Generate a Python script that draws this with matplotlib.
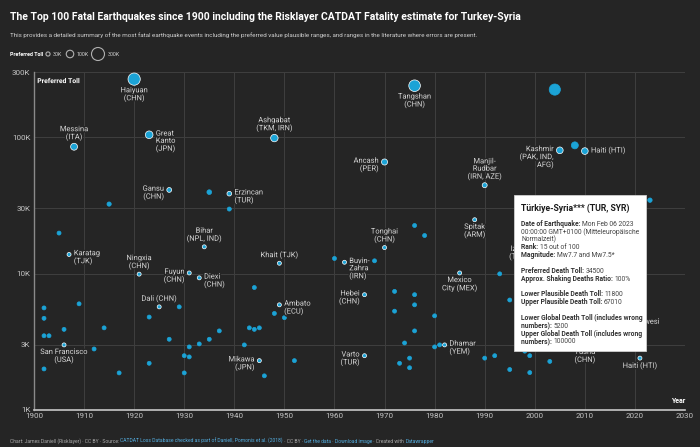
import numpy as np
import matplotlib.pyplot as plt
import matplotlib.patheffects as pe
from matplotlib.patches import Rectangle

# values
years = [1920, 1908, 1923, 1927, 1935, 1939, 1939, 1915, 1905, 1934,
         1976, 1948, 1970, 1976, 1978, 2004, 2005, 2008, 2010, 1990,
         2023, 1988, 1907, 1921, 1931, 1933, 1925, 1929, 1902, 1902,
         1909, 1923, 1906, 1914, 1902, 1903, 1906, 1927, 1937, 1935,
         1933, 1931, 1912, 1930, 1931, 1923, 1902, 1917, 1930, 1944,
         1949, 1948, 1950, 1943, 1944, 1945, 1942, 1945, 1946, 1949,
         1960, 1962, 1968, 1970, 1966, 1972, 1976, 1976, 1972, 1980,
         1976, 1974, 1980, 1981, 1982, 1966, 1975, 1973, 1975, 1952,
         1985, 1993, 1995, 1990, 1992, 1995, 1998, 1999, 1999, 2003,
         1999, 2010, 2018, 2021, 2003, 2001, 2015, 2006, 2011]
tolls = [266000, 85000, 104000, 41000, 39500, 38500, 29700, 32300, 19800, 15700,
         238000, 98400, 65700, 22500, 19000, 223000, 80000, 87000, 79000, 44400,
         34500, 24800, 13800, 9900, 10100, 9300, 5700, 5700, 5600, 4700,
         6000, 4800, 3900, 4000, 3500, 3500, 3000, 3300, 3800, 3300,
         3050, 2900, 2800, 2500, 2450, 2200, 2000, 1870, 1870, 7900,
         5900, 5100, 4750, 4000, 3900, 4000, 3000, 2300, 1780, 11900,
         12900, 12100, 12400, 15500, 7000, 7400, 7000, 5900, 5300, 4900,
         3800, 3100, 2900, 3000, 3000, 2500, 2400, 2200, 2040, 2300,
         10100, 9950, 6400, 2400, 2500, 1980, 2700, 2500, 1880, 2270,
         17100, 3000, 4340, 2400, 31000, 20000, 9000, 5700, 18400]
names = ["Haiyuan\n(CHN)", "Messina\n(ITA)", "Great\nKanto\n(JPN)", "Gansu\n(CHN)", "", "Erzincan\n(TUR)", "", "", "", "Bihar\n(NPL, IND)",
         "Tangshan\n(CHN)", "Ashgabat\n(TKM, IRN)", "Ancash\n(PER)", "", "", "", "Kashmir\n(PAK, IND,\nAFG)", "", "Haiti (HTI)", "Manjil-\nRudbar\n(IRN, AZE)",
         "", "Spitak\n(ARM)", "Karatag\n(TJK)", "Ningxia\n(CHN)", "Fuyun\n(CHN)", "Diexi\n(CHN)", "Dali (CHN)", "", "", "",
         "", "", "", "", "", "", "San Francisco\n(USA)", "", "", "",
         "", "", "", "", "", "", "", "", "", "",
         "Ambato\n(ECU)", "", "", "", "", "", "", "Mikawa\n(JPN)", "", "Khait (TJK)",
         "", "Buyin-\nZahra\n(IRN)", "", "Tonghai\n(CHN)", "Hebei\n(CHN)", "", "", "", "", "",
         "", "", "", "", "Dhamar\n(YEM)", "Varto\n(TUR)", "", "", "", "",
         "Mexico\nCity (MEX)", "", "", "", "", "", "", "", "", "",
         "Izmit\n(TUR)", "Yushu\n(CHN)", "Sulawesi", "Haiti (HTI)", "", "", "", "", ""]

label_side = {
    ("Haiyuan\n(CHN)", 1920): "below", ("Messina\n(ITA)", 1908): "above",
    ("Great\nKanto\n(JPN)", 1923): "right", ("Gansu\n(CHN)", 1927): "left",
    ("Erzincan\n(TUR)", 1939): "right", ("Bihar\n(NPL, IND)", 1934): "above",
    ("Tangshan\n(CHN)", 1976): "below", ("Ashgabat\n(TKM, IRN)", 1948): "above",
    ("Ancash\n(PER)", 1970): "left", ("Kashmir\n(PAK, IND,\nAFG)", 2005): "left",
    ("Haiti (HTI)", 2010): "right", ("Manjil-\nRudbar\n(IRN, AZE)", 1990): "above",
    ("Spitak\n(ARM)", 1988): "below", ("Karatag\n(TJK)", 1907): "right",
    ("Ningxia\n(CHN)", 1921): "above", ("Fuyun\n(CHN)", 1931): "left",
    ("Diexi\n(CHN)", 1933): "right", ("Dali (CHN)", 1925): "above",
    ("San Francisco\n(USA)", 1906): "below", ("Ambato\n(ECU)", 1949): "right",
    ("Mikawa\n(JPN)", 1945): "left", ("Khait (TJK)", 1949): "above",
    ("Buyin-\nZahra\n(IRN)", 1962): "right", ("Tonghai\n(CHN)", 1970): "above",
    ("Hebei\n(CHN)", 1966): "left", ("Dhamar\n(YEM)", 1982): "right",
    ("Varto\n(TUR)", 1966): "left", ("Mexico\nCity (MEX)", 1985): "below",
    ("Izmit\n(TUR)", 1999): "below", ("Yushu\n(CHN)", 2010): "below",
    ("Sulawesi", 2018): "right", ("Haiti (HTI)", 2021): "below",
}
label_dx = {("Izmit\n(TUR)", 1999): -11}

ytick_vals = [1000, 3000, 10000, 30000, 100000, 300000]
ytick_text = ["1K", "3K", "10K", "30K", "100K", "300K"]
xtick_vals = list(range(1900, 2031, 10))
legend_vals = [30000, 100000, 300000]
legend_text = ["30K", "100K", "300K"]

title = "The Top 100 Fatal Earthquakes since 1900 including the Risklayer CATDAT Fatality estimate for Turkey-Syria"
subtitle = ("This provides a detailed summary of the most fatal earthquake events including the preferred "
            "value plausible ranges, and ranges in the literature where errors are present.")

tip_title = "Türkiye-Syria*** (TUR, SYR)"
tip_lines = [
    ("Date of Earthquake: ", "Mon Feb 06 2023"),
    ("", "00:00:00 GMT+0100 (Mitteleuropäische"),
    ("", "Normalzeit)"),
    ("Rank: ", "15 out of 100"),
    ("Magnitude: ", "Mw7.7 and Mw7.5*"),
    ("", ""),
    ("Preferred Death Toll: ", "34500"),
    ("Approx. Shaking Deaths Ratio: ", "100%"),
    ("", ""),
    ("Lower Plausible Death Toll: ", "11800"),
    ("Upper Plausible Death Toll: ", "67010"),
    ("", ""),
    ("Lower Global Death Toll (includes wrong", ""),
    ("numbers): ", "5200"),
    ("Upper Global Death Toll (includes wrong", ""),
    ("numbers): ", "100000"),
]

footer = [
    ("Chart: James Daniell (Risklayer) · CC BY · Source: ", "grey"),
    ("CATDAT Loss Database checked as part of Daniell, Pomonis et al. (2018)", "link"),
    (" · CC BY · ", "grey"),
    ("Get the data", "link"),
    (" · ", "grey"),
    ("Download image", "link"),
    (" · Created with ", "grey"),
    ("Datawrapper", "link"),
]

BG = "#252525"
DOT = "#1ba3d6"
PT = 0.72  # px -> pt at dpi 100
plt.rcParams["font.family"] = ["Roboto", "DejaVu Sans"]


def dot_diam(v):
    return np.maximum(4.0, 13.0 * np.sqrt(np.asarray(v, dtype=float) / 300000))


fig = plt.figure(figsize=(7, 4.47), dpi=100, facecolor=BG)
ax = fig.add_axes([34 / 700, 37 / 447, 651 / 700, 338 / 447])
ax.set_facecolor(BG)
ax.set_yscale("log")
ax.set_xlim(1900, 2030)
ax.set_ylim(1000, 300000)
ax.set_xticks(xtick_vals)
ax.set_yticks(ytick_vals)
ax.set_yticklabels(ytick_text)
ax.minorticks_off()
ax.tick_params(length=0, colors="#c4c4c4", labelsize=8 * PT, pad=2.5)
ax.grid(True, color="#3f3f3f", lw=0.7)
ax.set_axisbelow(True)
for s in ["top", "right"]:
    ax.spines[s].set_visible(False)
ax.spines["left"].set_color("#8a8a8a")
ax.spines["left"].set_linewidth(1.0)
ax.spines["bottom"].set_color("#c8c8c8")
ax.spines["bottom"].set_linewidth(1.2)

diam = dot_diam(tolls)
edge = ["white" if n else DOT for n in names]
ax.scatter(years, tolls, s=(diam * PT) ** 2, c=DOT, edgecolors=edge, linewidths=0.5, zorder=3)

halo = [pe.withStroke(linewidth=2, foreground=BG)]
for yr, val, n, d in zip(years, tolls, names, diam):
    if not n:
        continue
    side = label_side[(n, yr)]
    r = d / 2 * PT
    dx = label_dx.get((n, yr), 0) * PT
    if side == "above":
        off, ha, va = (dx, r + 1.5), "center", "bottom"
    elif side == "below":
        off, ha, va = (dx, -r - 1.5), "center", "top"
    elif side == "right":
        off, ha, va = (r + 2, 4.2 * PT), "left", "top"
    else:
        off, ha, va = (-r - 2, 4.2 * PT), "right", "top"
    ax.annotate(n, (yr, val), xytext=off, textcoords="offset points", ha=ha, va=va,
                multialignment=ha, fontsize=7.5 * PT,
                color="#d6d6d6", linespacing=1.05, path_effects=halo, zorder=4)

ax.text(0.005, 0.985, "Preferred Toll", transform=ax.transAxes, ha="left", va="top",
        fontsize=6.8 * PT, weight="bold", color="white", path_effects=halo, zorder=4)
ax.text(1.0, 0.015, "Year", transform=ax.transAxes, ha="right", va="bottom",
        fontsize=7 * PT, weight="bold", color="white", zorder=4)

# overlay in pixel coordinates for header, legend, tooltip and footer
ov = fig.add_axes([0, 0, 1, 1], zorder=5)
ov.set_xlim(0, 700)
ov.set_ylim(447, 0)
ov.axis("off")
ov.patch.set_visible(False)

ov.text(10, 17, title, ha="left", va="center", fontsize=10.4 * PT, weight="bold", color="white")
ov.text(10, 35.5, subtitle, ha="left", va="center", fontsize=6.25 * PT, color="#d0d0d0")

ov.text(10, 54.5, "Preferred Toll", ha="left", va="center", fontsize=5.4 * PT, weight="bold", color="white")
leg_x = [48, 70, 98]
leg_d = dot_diam(legend_vals)
ov.scatter(leg_x, [54] * 3, s=(leg_d * PT) ** 2, facecolors="none", edgecolors="#b0b0b0", linewidths=0.8)
for x, d, t in zip(leg_x, leg_d, legend_text):
    ov.text(x + d / 2 + 3, 54.5, t, ha="left", va="center", fontsize=5.4 * PT, color="#d0d0d0")

# tooltip
ov.add_patch(Rectangle((514, 195), 132, 156, facecolor="white", edgecolor="#cfcfcf", lw=0.6, zorder=6))
ov.text(521, 208, tip_title, ha="left", va="center", fontsize=8.6 * PT, weight="bold",
        color="#1a1a1a", zorder=7)
for i, (b, rtxt) in enumerate(tip_lines):
    y = 223.7 + i * 7.85
    if b:
        tb = ov.text(521, y, b, ha="left", va="center", fontsize=6.8 * PT, weight="bold",
                     color="#333333", zorder=7)
        if rtxt:
            ov.annotate(rtxt, xy=(1, 0), xycoords=tb, ha="left", va="bottom", fontsize=6.8 * PT,
                        color="#444444", zorder=7)
    elif rtxt:
        ov.text(521, y, rtxt, ha="left", va="center", fontsize=6.8 * PT, color="#444444", zorder=7)

# footer
colors = {"grey": "#ababab", "link": "#55b0e3"}
prev = ov.text(10, 441, footer[0][0], ha="left", va="center", fontsize=4.95 * PT, color=colors[footer[0][1]])
for t, kind in footer[1:]:
    prev = ov.annotate(t, xy=(1, 0), xycoords=prev, ha="left", va="bottom", fontsize=4.95 * PT,
                       color=colors[kind])

fig.savefig("out.png", dpi=100, facecolor=BG)
